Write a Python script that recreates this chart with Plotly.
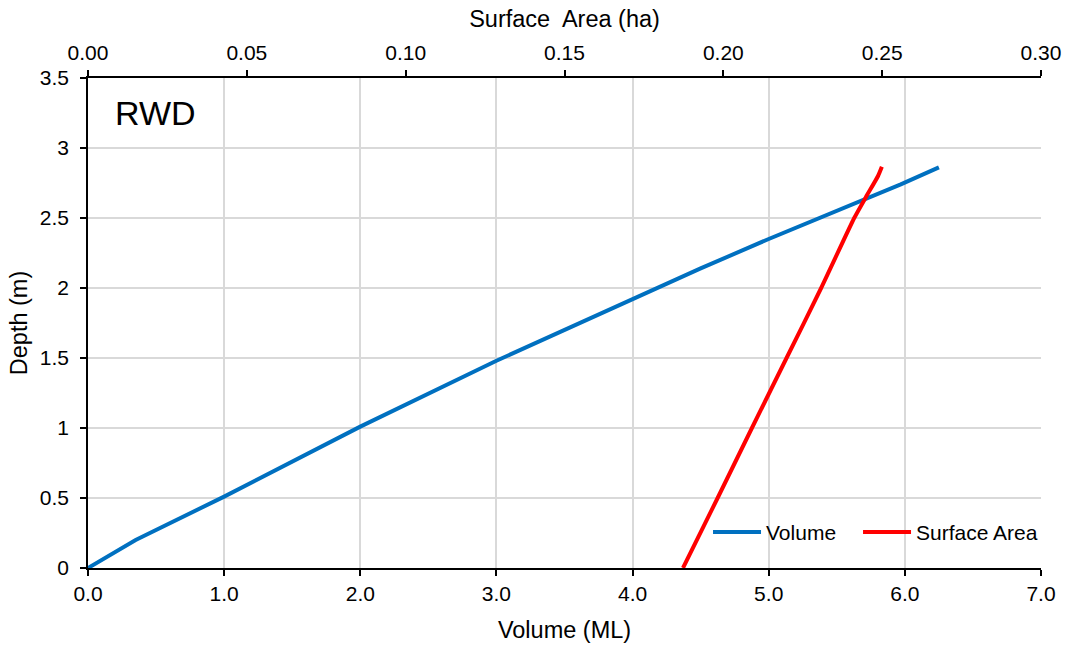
import plotly.graph_objects as go

# Volume (ML) vs Depth (m)
vol_ml = [0.0, 0.35, 1.0, 2.0, 3.0, 4.0, 4.5, 5.0, 5.72, 5.97, 6.25]
vol_depth = [0.0, 0.2, 0.51, 1.01, 1.48, 1.92, 2.14, 2.35, 2.64, 2.74, 2.862]

# Surface area (ha) vs Depth (m)
area_ha = [0.1873, 0.1982, 0.2090, 0.2199, 0.2308, 0.2412, 0.2449, 0.2487, 0.2499]
area_depth = [0.0, 0.5, 1.0, 1.5, 2.0, 2.5, 2.65, 2.8, 2.866]

FONT = "Liberation Sans, Arial, sans-serif"
GRID = "#d9d9d9"

fig = go.Figure()
fig.add_trace(go.Scatter(x=vol_ml, y=vol_depth, mode="lines", name="Volume",
                         line=dict(color="#0070C0", width=4), xaxis="x", yaxis="y",
                         legend="legend"))
fig.add_trace(go.Scatter(x=area_ha, y=area_depth, mode="lines", name="Surface Area",
                         line=dict(color="#FF0000", width=4, shape="spline", smoothing=0.5),
                         xaxis="x2", yaxis="y", legend="legend2"))

axis_common = dict(zeroline=False, showline=True, linecolor="black", linewidth=1.5,
                   ticks="outside", ticklen=6, tickcolor="black", tickwidth=1.5,
                   tickfont=dict(size=21), automargin=False)

legend_common = dict(orientation="h", xanchor="left", y=0.031, yanchor="bottom",
                     bgcolor="rgba(0,0,0,0)", font=dict(size=21), itemwidth=48)

fig.update_layout(
    width=1070, height=646,
    margin=dict(l=88, r=29, t=78, b=78, autoexpand=False),
    paper_bgcolor="white", plot_bgcolor="white",
    font=dict(family=FONT, size=21, color="black"),
    showlegend=True,
    legend=dict(x=0.6506, **legend_common),
    legend2=dict(x=0.8080, **legend_common),
    xaxis=dict(range=[0, 7], dtick=1, tickformat=".1f", showgrid=True, gridcolor=GRID,
               gridwidth=1.5,
               title=dict(text="Volume (ML)", font=dict(size=23.5), standoff=18),
               **axis_common),
    xaxis2=dict(range=[0, 0.30], dtick=0.05, tickformat=".2f", overlaying="x", side="top",
                showgrid=False, anchor="y", ticklabelstandoff=2,
                title=dict(text="Surface  Area (ha)", font=dict(size=23.5), standoff=7),
                **axis_common),
    yaxis=dict(range=[0, 3.5], dtick=0.5, showgrid=True, gridcolor=GRID, gridwidth=1.5,
               ticklabelstandoff=7,
               title=dict(text="Depth (m)", font=dict(size=23.5), standoff=6),
               **axis_common),
    annotations=[dict(text="RWD", x=0.026, y=0.971, xref="paper", yref="paper",
                      xanchor="left", yanchor="top", showarrow=False,
                      font=dict(size=34, family=FONT))],
)

fig.write_html("out.html", config={"displayModeBar": False},
               post_script="document.body.style.margin='0';")
